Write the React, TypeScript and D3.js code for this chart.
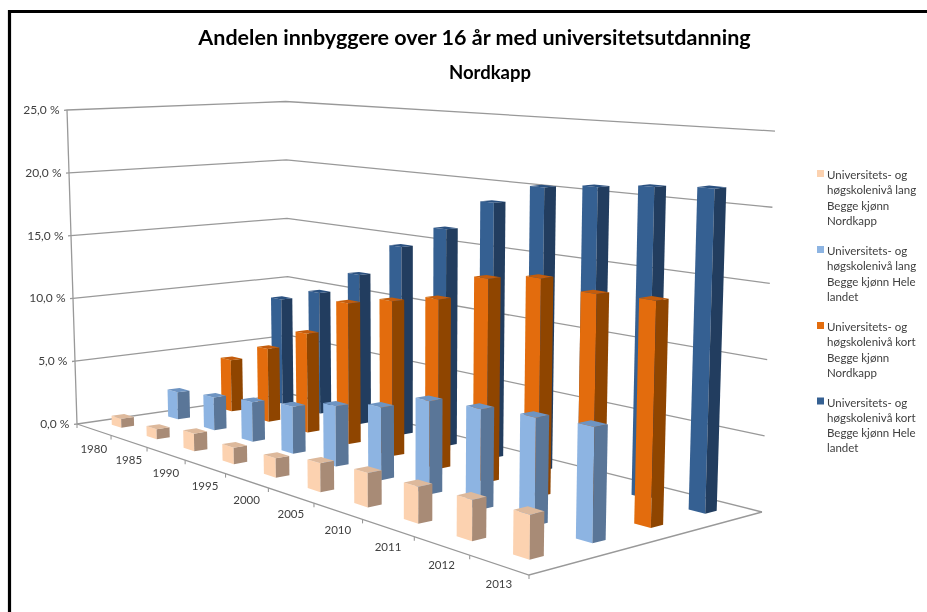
import React from "react";
import * as d3 from "d3";

const years = ["1980","1985","1990","1995","2000","2005","2010","2011","2012","2013"];
const seriesKeys = ["langNordkapp","langLandet","kortNordkapp","kortLandet"];
const langNordkapp = [0.71,0.76,1.32,1.2,1.37,1.98,2.3,2.4,2.6,2.75];
const langLandet = [2.17,2.56,3.0,3.48,4.35,5.1,6.37,6.66,6.98,7.27];
const kortNordkapp = [4.18,5.79,7.67,10.64,11.4,12.15,14.2,14.8,14.35,14.55];
const kortLandet = [8.7,9.8,11.8,14.5,16.3,18.7,20.2,20.6,21.0,21.3];
const seriesValues = [langNordkapp,langLandet,kortNordkapp,kortLandet];
const yTicks = [0,5,10,15,20,25];
const yTickLabels = ["0,0 %","5,0 %","10,0 %","15,0 %","20,0 %","25,0 %"];
const legendLines = [
  ["Universitets- og","høgskolenivå lang","Begge kjønn","Nordkapp"],
  ["Universitets- og","høgskolenivå lang","Begge kjønn Hele","landet"],
  ["Universitets- og","høgskolenivå kort","Begge kjønn","Nordkapp"],
  ["Universitets- og","høgskolenivå kort","Begge kjønn Hele","landet"],
];
const faceColors = [
  {l:"#FCD2B0",r:"#A88B76",t:"#DDB99C"},
  {l:"#8DB4E2",r:"#5A7698",t:"#6E94C2"},
  {l:"#E36C09",r:"#8F4505",t:"#C45C08"},
  {l:"#366092",r:"#203C5E",t:"#2C5180"},
];
const FONT = "Lato, 'Open Sans', sans-serif";

// floor corners: A(u0,v0) B(u1,v0) C(u1,v1) D(u0,v1)
const [A,B,C,D] = [[77,424],[529,575],[762,512],[289,393.5]];
const dx1=B[0]-C[0],dy1=B[1]-C[1],dx2=D[0]-C[0],dy2=D[1]-C[1];
const sx=A[0]-B[0]+C[0]-D[0],sy=A[1]-B[1]+C[1]-D[1];
const den=dx1*dy2-dx2*dy1;
const g=(sx*dy2-dx2*sy)/den,h=(dx1*sy-sx*dy1)/den;
const a=B[0]-A[0]+g*B[0],b=D[0]-A[0]+h*D[0];
const d_=B[1]-A[1]+g*B[1],e=D[1]-A[1]+h*D[1];
const VP=[409,10853];
const alpha=-0.251,beta=0.0753,H0=314;
const warp=0.064;
function proj(uIn:number,v:number,z:number){
  const u=uIn+warp*uIn*(1-uIn);
  const w=g*u+h*v+1;
  const x0=(a*u+b*v+A[0])/w,y0=(d_*u+e*v+A[1])/w;
  const H=H0/(1+alpha*u+beta*v);
  const dy=H*z;
  return [x0-(VP[0]-x0)/(VP[1]-y0)*dy,y0-dy];
}
const uScale=d3.scaleBand<string>().domain(years).range([0,0.994]).paddingInner(0.72).paddingOuter(0.36);
const labelScale=d3.scalePoint<string>().domain(years).range([0.05,0.95]);
const vScale=d3.scaleBand<string>().domain(seriesKeys).range([0,1]).paddingInner(0.78).paddingOuter(0.39);
const zScale=d3.scaleLinear().domain([0,25]).range([0,1]);
const poly=(pts:number[][])=>d3.line()(pts as [number,number][])+"Z";

export default function App(){
  const bars:any[]=[];
  for(let j=seriesKeys.length-1;j>=0;j--){
    years.forEach((yr,i)=>{
      const u0=uScale(yr)!,u1=u0+uScale.bandwidth();
      const v0=vScale(seriesKeys[j])!,v1=v0+vScale.bandwidth();
      const z=zScale(seriesValues[j][i]);
      const c=faceColors[j];
      bars.push(<g key={j+"-"+i}>
        <path d={poly([proj(u0,v0,0),proj(u1,v0,0),proj(u1,v0,z),proj(u0,v0,z)])} fill={c.l}/>
        <path d={poly([proj(u1,v0,0),proj(u1,v1,0),proj(u1,v1,z),proj(u1,v0,z)])} fill={c.r}/>
        <path d={poly([proj(u0,v0,z),proj(u1,v0,z),proj(u1,v1,z),proj(u0,v1,z)])} fill={c.t}/>
      </g>);
    });
  }
  const grid="#999999";
  return (
    <svg width={927} height={612} style={{position:"absolute",left:0,top:0,background:"#fff"}} fontFamily={FONT}>
      <defs><filter id="soft" x="-5%" y="-5%" width="110%" height="110%"><feGaussianBlur stdDeviation="0.55"/></filter></defs>
      <g filter="url(#soft)">
        <path d="M927,11.5H9.5V612" fill="none" stroke="#000" strokeWidth={3.2}/>
        {yTicks.map((t,k)=>{
          const z=zScale(t);
          const pa=proj(0,0,z),pd=proj(0,1,z),pc=proj(1,1,z);
          return <g key={t}>
            <path d={d3.line()([[pa[0]-3,pa[1]+0.3],pa,pd,pc] as [number,number][])!} fill="none" stroke={grid} strokeWidth={1.3}/>
            <text x={pa[0]-7.5} y={pa[1]+4} textAnchor="end" fontSize={12} fill="#404040">{yTickLabels[k]}</text>
          </g>;
        })}
        <path d={d3.line()([proj(0,0,0),proj(0,0,1)] as [number,number][])!} stroke={grid} strokeWidth={1.3} fill="none"/>
        <path d={d3.line()([proj(0,0,0),proj(1,0,0),proj(1,1,0)] as [number,number][])!} stroke={grid} strokeWidth={1.3} fill="none"/>
        {d3.range(0,11).map(k=>{
          const p=proj(k/10,0,0);
          return <path key={k} d={d3.line()([p,[p[0],p[1]+4]] as [number,number][])!} stroke={grid} strokeWidth={1.1}/>;
        })}
        {years.map((yr)=>{
          const p=proj(labelScale(yr)!,0,0);
          return <text key={yr} x={p[0]} y={p[1]+23} textAnchor="middle" fontSize={11.5} fill="#404040">{yr}</text>;
        })}
        {bars}
        <text x={474.5} y={45} textAnchor="middle" fontSize={21.5} fontWeight={700} fill="#000">Andelen innbyggere over 16 år med universitetsutdanning</text>
        <text x={490} y={78.5} textAnchor="middle" fontSize={18.5} fontWeight={700} fill="#000">Nordkapp</text>
        {legendLines.map((lines,k)=>{
          const y0=[179,255,331,406.5][k];
          return <g key={k}>
            <rect x={817} y={y0-9} width={7} height={7} fill={faceColors[k].l}/>
            {lines.map((s,m)=><text key={m} x={827} y={y0+m*15.3} fontSize={11.5} fill="#404040">{s}</text>)}
          </g>;
        })}
      </g>
    </svg>
  );
}
